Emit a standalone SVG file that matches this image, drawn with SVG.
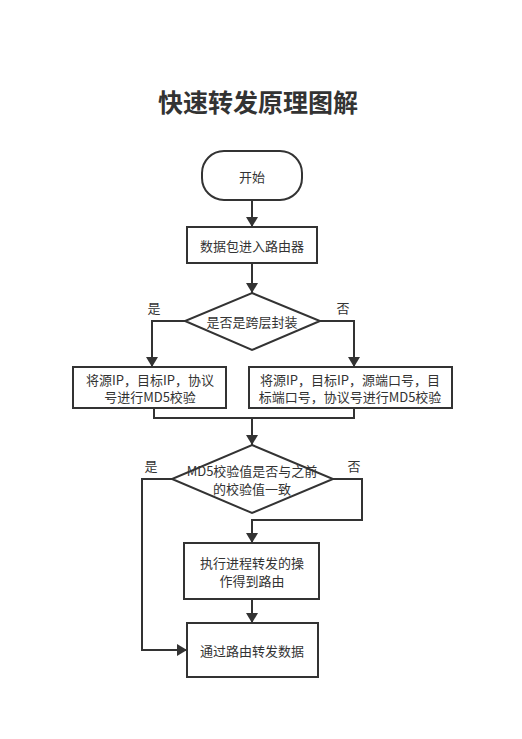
<svg xmlns="http://www.w3.org/2000/svg" width="522" height="739" viewBox="0 0 522 739">
<style>
.bg{fill:#ffffff}
.n{fill:#ffffff;stroke:#333333;stroke-width:2}
.t{font-family:"Noto Sans CJK SC","Noto Sans",sans-serif;font-size:13px;fill:#333333;text-anchor:middle;dominant-baseline:central}
.title{font-family:"Noto Sans CJK SC","Noto Sans",sans-serif;font-size:25px;font-weight:bold;fill:#333333;text-anchor:middle}
.c{fill:none;stroke:#333333;stroke-width:2;marker-end:url(#ah)}
.cn{fill:none;stroke:#333333;stroke-width:2}
</style>
<defs>
<marker id="ah" viewBox="0 0 10 12" refX="10" refY="6" markerWidth="10" markerHeight="12" markerUnits="userSpaceOnUse" orient="auto">
<path d="M0,0 L10,6 L0,12 Z" fill="#333333"/>
</marker>
</defs>
<rect class="bg" x="0" y="0" width="522" height="739"/>
<text class="title" x="258" y="112">快速转发原理图解</text>

<g id="connectors">
<path class="c" d="M252,201 L252,227"/>
<path class="c" d="M252,263 L252,293"/>
<path class="c" d="M185,321 L152,321 L152,367"/>
<path class="c" d="M320,321 L354,321 L354,367"/>
<path class="cn" d="M154,408 L154,418 L354,418 L354,408"/>
<path class="c" d="M252,418 L252,445"/>
<path class="c" d="M172,479 L142,479 L142,650 L187,650"/>
<path class="c" d="M333,479 L362,479 L362,520 L252,520 L252,543"/>
<path class="c" d="M252,599 L252,623"/>
<text class="t" x="154" y="307">是</text>
<text class="t" x="343" y="307">否</text>
<text class="t" x="151" y="465">是</text>
<text class="t" x="354" y="465">否</text>
</g>

<g id="start">
<rect class="n" x="202" y="151" width="100" height="49" rx="22" ry="22"/>
<text class="t" x="252" y="176">开始</text>
</g>
<g id="enter">
<rect class="n" x="187" y="227" width="130" height="36"/>
<text class="t" x="252" y="245">数据包进入路由器</text>
</g>
<g id="decision1">
<polygon class="n" points="252,293 320,321 252,350 185,321"/>
<text class="t" x="252" y="321">是否是跨层封装</text>
</g>
<g id="md5a">
<rect class="n" x="73" y="367" width="153" height="41"/>
<text class="t" x="150" y="379">将源IP，目标IP，协议</text>
<text class="t" x="150" y="396.5">号进行MD5校验</text>
</g>
<g id="md5b">
<rect class="n" x="249" y="367" width="203" height="41"/>
<text class="t" x="350" y="379">将源IP，目标IP，源端口号，目</text>
<text class="t" x="350" y="396.5">标端口号，协议号进行MD5校验</text>
</g>
<g id="decision2">
<polygon class="n" points="252,445 333,479 252,513 172,479"/>
<text class="t" x="252" y="470.5">MD5校验值是否与之前</text>
<text class="t" x="252" y="488">的校验值一致</text>
</g>
<g id="process">
<rect class="n" x="184" y="543" width="135" height="56"/>
<text class="t" x="252" y="562.5">执行进程转发的操</text>
<text class="t" x="252" y="580">作得到路由</text>
</g>
<g id="forward">
<rect class="n" x="187" y="623" width="131" height="54"/>
<text class="t" x="252" y="650">通过路由转发数据</text>
</g>
</svg>
